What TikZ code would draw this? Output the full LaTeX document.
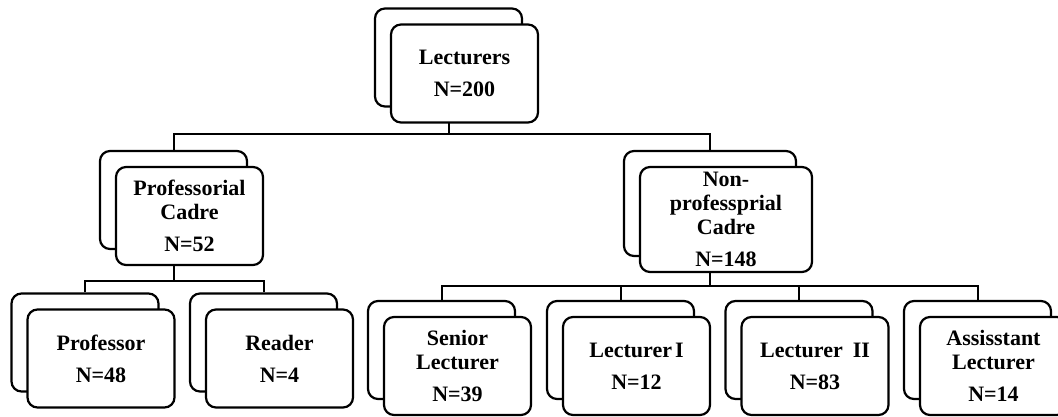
\documentclass[tikz,border=0pt]{standalone}
\usepackage{fontspec}
\setmainfont{Liberation Serif}
\begin{document}
\begin{tikzpicture}[x=1pt,y=-1pt,
  back/.style={draw,line width=2.2pt,rounded corners=10pt,fill=white,
    minimum width=147pt,minimum height=98pt,inner sep=0pt},
  front/.style={back,align=center,font=\fontsize{22}{24}\selectfont\bfseries},
  wide/.style={minimum width=172pt,minimum height=105pt},
  link/.style={line width=2pt}]
\useasboundingbox (0,0) rectangle (1058,417);
% back boxes
\node[back] (topB) at (448.5,57.5) {};
\node[back] (profB) at (173.5,200) {};
\node[back,wide] (nonB) at (710,203.5) {};
\node[back] (pfrB) at (85,342.5) {};
\node[back] (readB) at (263.5,342.5) {};
\node[back] (senB) at (441.5,350) {};
\node[back] (lecAB) at (620.5,350) {};
\node[back] (lecBB) at (799,350) {};
\node[back] (assB) at (977.5,350) {};
% connectors
\coordinate (j0) at (448.5,134);
\coordinate (j1) at (173.5,281);
\coordinate (j2) at (710,286);
\draw[link] (topB.south) -- (j0);
\draw[link] (profB.north) |- (j0) -| (nonB.north);
\draw[link] (profB.south) -- (j1);
\draw[link] (pfrB.north) |- (j1) -| (readB.north);
\draw[link] (nonB.south) -- (j2);
\draw[link] (senB.north) |- (j2) -| (assB.north);
\draw[link] (lecAB.north) -- (lecAB.north |- j2);
\draw[link] (lecBB.north) -- (lecBB.north |- j2);
% front boxes
\node[front] (top) at (464.5,73.5) {Lecturers\\[8pt]N=200};
\node[front] (prof) at (189.5,216) {Professorial\\Cadre\\[8pt]N=52};
\node[front,wide] (non) at (726,219.5) {Non-\\professprial\\Cadre\\[8pt]N=148};
\node[front] (pfr) at (101,358.5) {Professor\\[8pt]N=48};
\node[front] (read) at (279.5,358.5) {Reader\\[8pt]N=4};
\node[front] (sen) at (457.5,366) {Senior\\Lecturer\\[8pt]N=39};
\node[front] (lecA) at (636.5,366) {Lecturer\hspace{3pt}I\\[8pt]N=12};
\node[front] (lecB) at (815,366) {Lecturer\hspace{10pt}II\\[8pt]N=83};
\node[front] (ass) at (993.5,366) {Assisstant\\Lecturer\\[8pt]N=14};
\end{tikzpicture}
\end{document}
